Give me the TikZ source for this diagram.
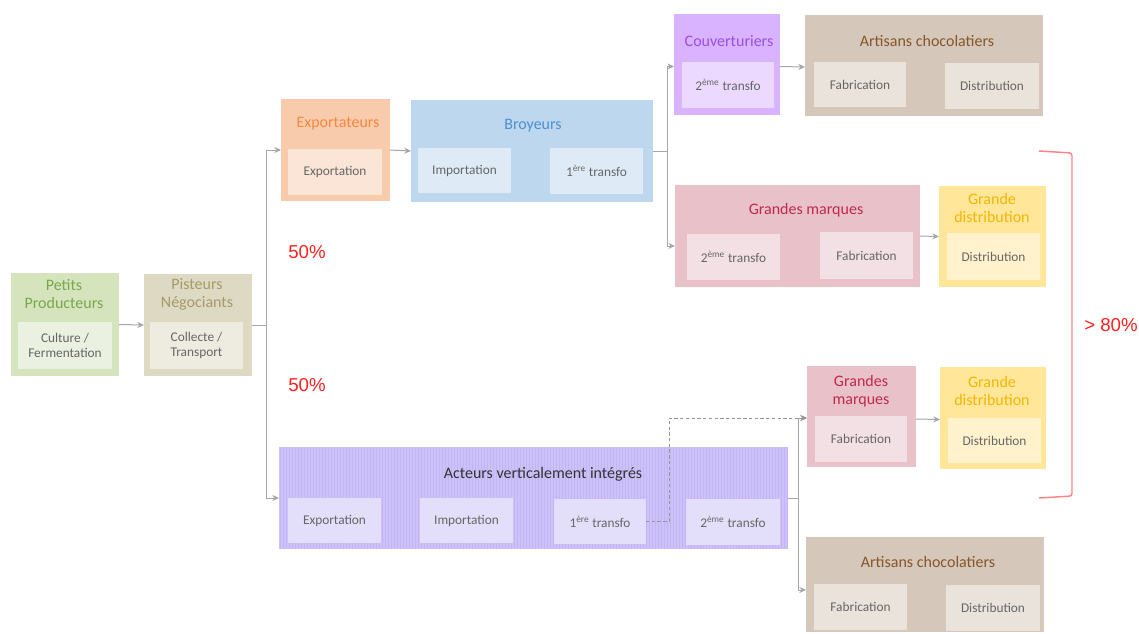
\documentclass[tikz,border=0pt]{standalone}
\usepackage{fontspec}
\setmainfont{Carlito}
\newfontfamily\pctfont{Liberation Sans}
\usetikzlibrary{arrows.meta,calc}
\definecolor{arrc}{HTML}{A6A6A6}
\definecolor{innertxt}{HTML}{666666}
\definecolor{pctred}{HTML}{FF2020}
\definecolor{brk}{HTML}{FF8585}
\definecolor{gBox}{HTML}{D6E4BD}\definecolor{gTit}{HTML}{76A84C}\definecolor{gIn}{HTML}{EBF1E0}
\definecolor{pBox}{HTML}{DDD9C3}\definecolor{pTit}{HTML}{A59A6A}\definecolor{pIn}{HTML}{EEECE1}
\definecolor{eBox}{HTML}{F8CBAD}\definecolor{eTit}{HTML}{F4883F}\definecolor{eIn}{HTML}{FBE5D6}
\definecolor{bBox}{HTML}{BDD7EE}\definecolor{bTit}{HTML}{4F8FD0}\definecolor{bIn}{HTML}{DEEBF7}
\definecolor{cBox}{HTML}{D9B3FF}\definecolor{cTit}{HTML}{9A4FE0}\definecolor{cIn}{HTML}{ECD9FF}
\definecolor{aBox}{HTML}{D5C7B9}\definecolor{aTit}{HTML}{87562A}\definecolor{aIn}{HTML}{EAE3DC}
\definecolor{mBox}{HTML}{E8C1C9}\definecolor{mTit}{HTML}{C0294D}\definecolor{mIn}{HTML}{F3E0E4}
\definecolor{dBox}{HTML}{FFE699}\definecolor{dTit}{HTML}{F2B705}\definecolor{dIn}{HTML}{FFF2CC}
\definecolor{vBox}{HTML}{CCC2F8}\definecolor{vStr}{HTML}{C2B4F6}\definecolor{vTit}{HTML}{333333}\definecolor{vIn}{HTML}{E3DEFA}
\newcommand\bx[7]{\node[rect, fill=#6, minimum width={(#4-#2)*0.75pt}, minimum height={(#5-#3)*0.75pt}] (#1) at ({(#2+#4)/2},{(#3+#5)/2}) {#7};}
\tikzset{
  rect/.style={inner sep=0pt, outer sep=0pt, draw=none, align=center, text=innertxt, font=\fontsize{10}{11.5}\selectfont},
  ttl/.style={align=center, inner sep=0pt, font=\fontsize{12}{13.5}\selectfont},
  arr/.style={draw=arrc, line width=0.75pt, -{Stealth[length=5pt,width=4.5pt]}},
  ln/.style={draw=arrc, line width=0.75pt},
  dsh/.style={draw=arrc!90!black, line width=0.75pt, dash pattern=on 2.5pt off 1.8pt, -{Stealth[length=5pt,width=4.5pt]}},
  pct/.style={text=pctred, font=\pctfont\fontsize{14}{16}\selectfont, inner sep=0pt},
}
\begin{document}
\begin{tikzpicture}[x=0.75pt, y=-0.75pt]
\useasboundingbox (0,0) rectangle (1139,633);
% Petits producteurs
\bx{pp}{11}{273}{119}{376}{gBox}{}
\node[ttl, text=gTit] (ppt) at (64,294) {Petits\\Producteurs};
\bx{ppi}{18}{322}{112}{369}{gIn}{Culture /\\Fermentation}
% Pisteurs
\bx{pn}{144}{274}{252}{376}{pBox}{}
\node[ttl, text=pTit] (pnt) at (197,294) {Pisteurs\\Négociants};
\bx{pni}{150}{322}{243}{369}{pIn}{Collecte /\\Transport}
% Exportateurs
\bx{ex}{281}{99}{390}{201}{eBox}{}
\node[ttl, text=eTit] (ext) at (338,124) {Exportateurs};
\bx{exi}{288}{149}{382}{195}{eIn}{Exportation}
% Broyeurs
\bx{br}{411}{100}{653}{202}{bBox}{}
\node[ttl, text=bTit] (brt) at (533,126) {Broyeurs};
\bx{bri1}{418}{148}{511}{193}{bIn}{Importation}
\bx{bri2}{550}{148}{643}{194}{bIn}{1\textsuperscript{ère} transfo}
% Couverturiers
\bx{co}{674}{14}{780}{115}{cBox}{}
\node[ttl, text=cTit] (cot) at (729,41) {Couverturiers};
\bx{coi}{682}{62}{774}{108}{cIn}{2\textsuperscript{ème} transfo}
% Artisans top
\bx{ar1}{805}{15}{1043}{116}{aBox}{}
\node[ttl, text=aTit] (ar1t) at (927,41) {Artisans chocolatiers};
\bx{ar1a}{814}{62}{906}{107}{aIn}{Fabrication}
\bx{ar1b}{945}{63}{1039}{109}{aIn}{Distribution}
% Grandes marques top
\bx{gm1}{675}{185}{920}{287}{mBox}{}
\node[ttl, text=mTit] (gm1t) at (806,210) {Grandes marques};
\bx{gm1a}{687}{234}{780}{280}{mIn}{2\textsuperscript{ème} transfo}
\bx{gm1b}{820}{232}{913}{279}{mIn}{Fabrication}
% Grande distribution top
\bx{gd1}{939}{186}{1046}{287}{dBox}{}
\node[ttl, text=dTit] (gd1t) at (992,208) {Grande\\distribution};
\bx{gd1a}{947}{233}{1040}{280}{dIn}{Distribution}
% Acteurs verticalement integres
\bx{av}{279}{447}{788}{549}{vBox}{}
\foreach \i in {280,283,...,787} {\draw[vStr, line width=0.4pt] (\i,447) -- (\i,549);}
\node[ttl, text=vTit] (avt) at (543,474) {Acteurs verticalement intégrés};
\bx{av1}{288}{498}{381}{543}{vIn}{Exportation}
\bx{av2}{420}{498}{513}{543}{vIn}{Importation}
\bx{av3}{554}{499}{646}{544}{vIn}{1\textsuperscript{ère} transfo}
\bx{av4}{686}{499}{780}{545}{vIn}{2\textsuperscript{ème} transfo}
% Grandes marques bottom
\bx{gm2}{807}{366}{916}{467}{mBox}{}
\node[ttl, text=mTit] (gm2t) at (861,391) {Grandes\\marques};
\bx{gm2a}{815}{416}{907}{462}{mIn}{Fabrication}
% Grande distribution bottom
\bx{gd2}{940}{367}{1046}{469}{dBox}{}
\node[ttl, text=dTit] (gd2t) at (992,391) {Grande\\distribution};
\bx{gd2a}{948}{418}{1041}{463}{dIn}{Distribution}
% Artisans bottom
\bx{ar2}{806}{537}{1044}{632}{aBox}{}
\node[ttl, text=aTit] (ar2t) at (928,562) {Artisans chocolatiers};
\bx{ar2a}{814}{584}{907}{630}{aIn}{Fabrication}
\bx{ar2b}{946}{585}{1040}{631}{aIn}{Distribution}
% percentages
\node[pct] (p1) at (307,252) {50\%};
\node[pct] (p2) at (307,385) {50\%};
\node[pct] (p3) at (1111,325) {> 80\%};
% connectors
\draw[arr] (pp.east) -- (pn.west);
\coordinate (j1) at (266,325);
\draw[ln] (pn.east) -- (j1);
\draw[arr] (j1) |- (ex.west);
\draw[arr] (j1) |- (av.west);
\draw[arr] (ex.east) -- (br.west);
\coordinate (j2) at (667,151);
\draw[ln] (br.east) -- (j2);
\draw[arr] (j2) |- ($(co.west)+(0,2)$);
\draw[arr] (j2) |- ($(gm1.west)+(0,10)$);
\draw[arr] ($(co.east)+(0,2)$) -- ($(ar1.west)+(0,1.5)$);
\draw[arr] (gm1.east) -- (gd1.west);
\coordinate (j3) at (798,498);
\draw[ln] (av.east) -- (j3);
\draw[arr] (j3) |- ($(gm2.west)+(0,1.5)$);
\draw[arr] (j3) |- ($(ar2.west)+(0,5.5)$);
\draw[arr] ($(gm2.east)+(0,2.5)$) -- ($(gd2.west)+(0,1.5)$);
\coordinate (dj) at (669,521.5);
\draw[dsh] (av3.east) -- (dj) |- ($(gm2.west)+(0,1.5)$);
% bracket
\coordinate (bt) at (1039,151);
\coordinate (bb) at (1039,498);
\draw[brk, line width=1.1pt, rounded corners=2pt] (bt) -- (1072,153) -- (1072,496) -- (bb);
\end{tikzpicture}
\end{document}
